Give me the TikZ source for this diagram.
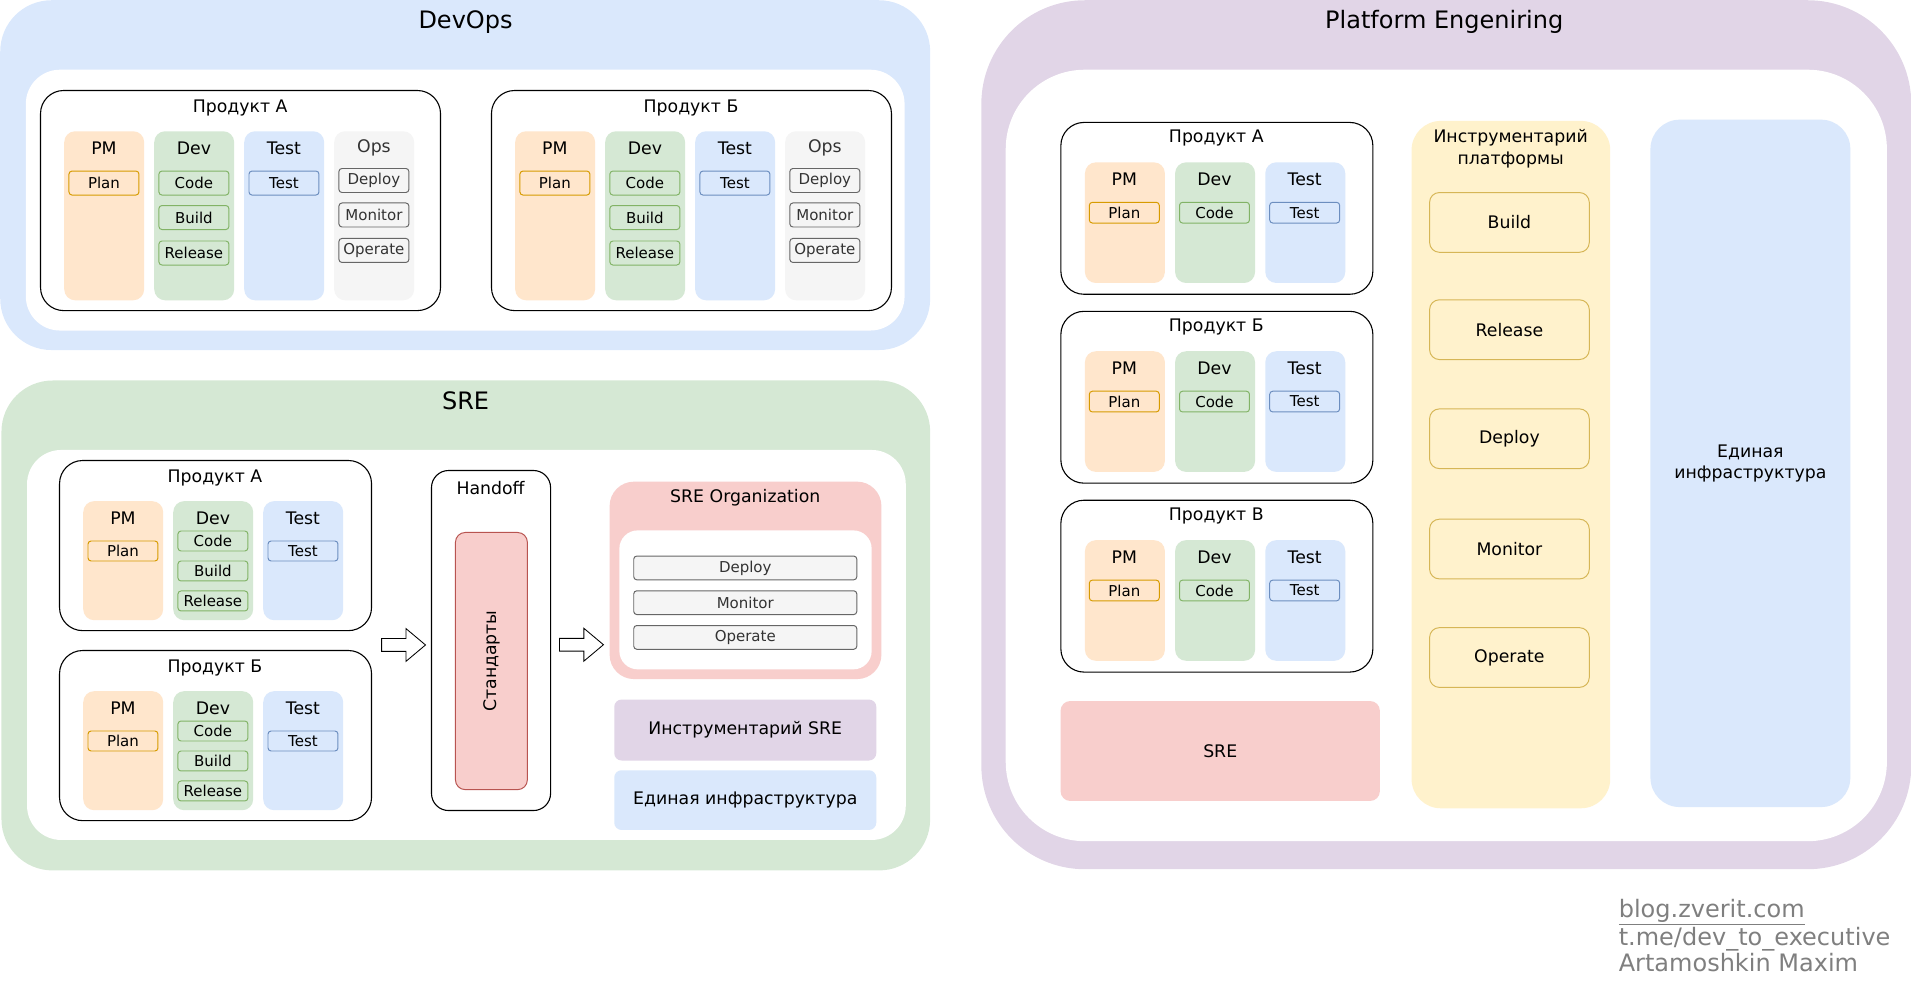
\documentclass[tikz,border=0pt]{standalone}
\usepackage{fontspec}
\setmainfont{DejaVu Sans}
\usetikzlibrary{shapes.arrows, positioning}
\definecolor{bluef}{HTML}{DAE8FC}
\definecolor{blued}{HTML}{6C8EBF}
\definecolor{greenf}{HTML}{D5E8D4}
\definecolor{greend}{HTML}{82B366}
\definecolor{orangef}{HTML}{FFE6CC}
\definecolor{oranged}{HTML}{D79B00}
\definecolor{grayf}{HTML}{F5F5F5}
\definecolor{grayd}{HTML}{666666}
\definecolor{grayt}{HTML}{333333}
\definecolor{redf}{HTML}{F8CECC}
\definecolor{redd}{HTML}{B85450}
\definecolor{yellowf}{HTML}{FFF2CC}
\definecolor{yellowd}{HTML}{D6B656}
\definecolor{purplef}{HTML}{E1D5E7}
\definecolor{footgray}{HTML}{7F7F7F}
\newcommand{\bigf}{\fontsize{19.7}{23}\selectfont}
\newcommand{\midf}{\fontsize{14.2}{17.5}\selectfont}
\newcommand{\smf}{\fontsize{12.3}{14}\selectfont}

\begin{document}
\begin{tikzpicture}[x=1pt, y=-1pt, inner sep=0pt, font=\midf,
  area/.style={anchor=north west},
  prod/.style={area, draw, line width=0.9pt, rounded corners=19pt, minimum width=#1},
  col/.style={area, rounded corners=9pt, minimum width=65.6pt},
  item/.style={draw, line width=0.8pt, rounded corners=2.5pt, minimum width=57.4pt, font=\smf},
  tool/.style={draw=yellowd, fill=yellowf, line width=0.8pt, rounded corners=8pt, minimum width=131pt, minimum height=49pt},
  ttl/.style={font=\bigf},
  foot/.style={anchor=base west, font=\bigf, text=footgray},
  bigarrow/.style={single arrow, draw, line width=0.7pt, fill=white, minimum height=36pt,
    single arrow head extend=8.2pt, single arrow tip angle=80, inner sep=4.9pt}]
\useasboundingbox (0,0) rectangle (1568,807.4);

% DevOps
\node[area, fill=bluef, rounded corners=42pt, minimum width=763pt, minimum height=287pt] (devops) at (0,0) {};
\node[area, fill=white, rounded corners=28pt, minimum width=721pt, minimum height=214pt] (devops-in) at (21,57) {};
\node[ttl] (devops-t) at (382,18) {DevOps};
\foreach \p/\nm/\dx in {a/Продукт А/0, b/Продукт Б/370} {
  \node[prod=328.2pt, minimum height=180.6pt] (d\p) at ({32.8+\dx},73.8) {};
  \node (d\p-t) at ({197+\dx},88.6) {\nm};
  \foreach \key/\lbl/\fc/\tc/\i in {pm/PM/orangef/black/0, dev/Dev/greenf/black/1, test/Test/bluef/black/2, ops/Ops/grayf/grayt/3} {
    \node[col, fill=\fc, minimum height=138.7pt] (d\p-\key) at ({52.5+\dx+73.84*\i},107.5) {};
    \node[text=\tc] (d\p-\key-t) at ({85.3+\dx+73.84*\i},121.4) {\lbl};
  }
  \node[item, draw=oranged, fill=orangef, minimum height=19.7pt] (d\p-plan) at ({85.3+\dx},150.2) {Plan};
  \foreach \key/\lbl/\y in {code/Code/150.2, build/Build/178.5, rel/Release/207.6}
    \node[item, draw=greend, fill=greenf, minimum height=19.7pt] (d\p-\key) at ({159.1+\dx},\y) {\lbl};
  \node[item, draw=blued, fill=bluef, minimum height=19.7pt] (d\p-check) at ({233+\dx},150.2) {Test};
  \foreach \key/\lbl/\y in {dep/Deploy/148.1, mon/Monitor/176.4, op/Operate/205.5}
    \node[item, draw=grayd, fill=grayf, text=grayt, minimum height=19.7pt] (d\p-\key) at ({306.8+\dx},\y) {\lbl};
}

% SRE
\node[area, fill=greenf, rounded corners=42pt, minimum width=762pt, minimum height=402pt] (sre) at (1,312) {};
\node[area, fill=white, rounded corners=28pt, minimum width=721pt, minimum height=320pt] (sre-in) at (22,369) {};
\node[ttl] (sre-t) at (382,329) {SRE};
\foreach \p/\nm/\dy in {a/Продукт А/0, b/Продукт Б/155.9} {
  \node[prod=256pt, minimum height=139.6pt] (s\p) at (48.4,{377.4+\dy}) {};
  \node (s\p-t) at (176.4,{392.2+\dy}) {\nm};
  \foreach \key/\lbl/\fc/\i in {pm/PM/orangef/0, dev/Dev/greenf/1, test/Test/bluef/2} {
    \node[col, fill=\fc, minimum height=97.7pt] (s\p-\key) at ({68.1+73.84*\i},{411+\dy}) {};
    \node (s\p-\key-t) at ({100.9+73.84*\i},{425+\dy}) {\lbl};
  }
  \node[item, draw=oranged, fill=orangef, minimum height=16.4pt] (s\p-plan) at (100.9,{452.1+\dy}) {Plan};
  \foreach \key/\lbl/\y in {code/Code/443.9, build/Build/468.5, rel/Release/493.1}
    \node[item, draw=greend, fill=greenf, minimum height=16.4pt] (s\p-\key) at (174.7,{\y+\dy}) {\lbl};
  \node[item, draw=blued, fill=bluef, minimum height=16.4pt] (s\p-check) at (248.6,{452.1+\dy}) {Test};
}
\node[bigarrow] (arr1) at (328,529.2) {};
\node[area, draw, line width=0.9pt, rounded corners=14pt, minimum width=97.7pt, minimum height=279pt] (handoff) at (353.6,385.6) {};
\node (handoff-t) at (402.5,400.4) {Handoff};
\node[area, draw=redd, fill=redf, line width=0.8pt, rounded corners=8pt, minimum width=59pt, minimum height=211pt] (std) at (373.3,436.5) {};
\node[rotate=90] (std-t) at (std.center) {Стандарты};
\node[bigarrow] (arr2) at (474,529) {};
\node[area, fill=redf, rounded corners=20pt, minimum width=223pt, minimum height=162pt] (org) at (500,395) {};
\node[area, fill=white, rounded corners=15pt, minimum width=207pt, minimum height=114pt] (org-in) at (508,435) {};
\node (org-t) at (611.5,408) {SRE Organization};
\foreach \key/\lbl/\y in {dep/Deploy/466, mon/Monitor/494.5, op/Operate/523}
  \node[item, draw=grayd, fill=grayf, text=grayt, minimum width=183pt, minimum height=19.5pt] (org-\key) at (611.5,\y) {\lbl};
\node[fill=purplef, rounded corners=6pt, minimum width=215pt, minimum height=50pt] (sre-tools) at (611.5,599) {Инструментарий SRE};
\node[fill=bluef, rounded corners=6pt, minimum width=215pt, minimum height=49pt] (sre-infra) at (611.5,656.5) {Единая инфраструктура};

% Platform Engineering
\node[area, fill=purplef, rounded corners=85pt, minimum width=763pt, minimum height=713pt] (pe) at (805,0) {};
\node[area, fill=white, rounded corners=65pt, minimum width=723pt, minimum height=633pt] (pe-in) at (825,57) {};
\node[ttl] (pe-t) at (1185,18) {Platform Engeniring};
\foreach \p/\nm/\y in {a/Продукт А/100, b/Продукт Б/255, c/Продукт В/410} {
  \node[prod=256pt, minimum height=141pt] (p\p) at (870,\y) {};
  \node (p\p-t) at (998,{\y+13.5}) {\nm};
  \foreach \key/\lbl/\fc/\i in {pm/PM/orangef/0, dev/Dev/greenf/1, test/Test/bluef/2} {
    \node[col, fill=\fc, minimum height=99pt] (p\p-\key) at ({890+74*\i},{\y+33}) {};
    \node (p\p-\key-t) at ({922.5+74*\i},{\y+47}) {\lbl};
  }
  \node[item, draw=oranged, fill=orangef, minimum height=17pt] (p\p-plan) at (922.5,{\y+74.5}) {Plan};
  \node[item, draw=greend, fill=greenf, minimum height=17pt] (p\p-code) at (996.5,{\y+74.5}) {Code};
  \node[item, draw=blued, fill=bluef, minimum height=17pt] (p\p-check) at (1070.5,{\y+74.5}) {Test};
}
\node[area, fill=redf, rounded corners=8pt, minimum width=262pt, minimum height=82pt] (pe-sre) at (870,575) {};
\node (pe-sre-t) at (pe-sre.center) {SRE};
\node[area, fill=yellowf, rounded corners=24pt, minimum width=163pt, minimum height=564pt] (kit) at (1158,99) {};
\node[align=center] (kit-t) at (1239.5,122) {Инструментарий\\платформы};
\foreach \key/\lbl/\y in {build/Build/182.5, rel/Release/270.5, dep/Deploy/360, mon/Monitor/450.5, op/Operate/539.5}
  \node[tool] (kit-\key) at (1238.5,\y) {\lbl};
\node[area, fill=bluef, rounded corners=24pt, minimum width=164pt, minimum height=564pt] (infra) at (1354,98) {};
\node[align=center] (infra-t) at (infra.center) {Единая\\инфраструктура};

% footer
\node[foot] (blog) at (1328,753) {\underline{blog.zverit.com}};
\node[foot] (tme) at (1328,775.4) {t.me/dev\_to\_executive};
\node[foot] (author) at (1328,797.3) {Artamoshkin Maxim};
\end{tikzpicture}
\end{document}
